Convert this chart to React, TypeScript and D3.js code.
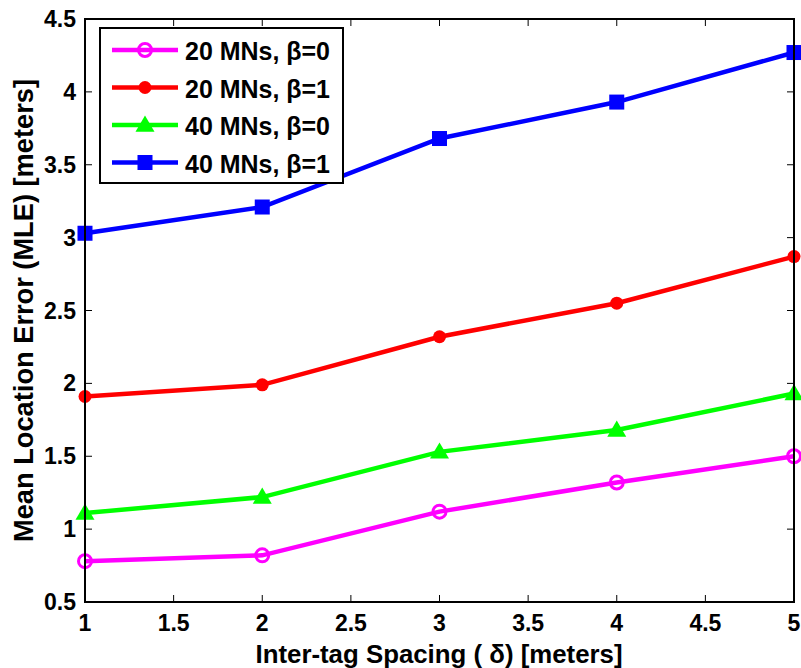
import React from "react";
import * as d3 from "d3";

const spacing = [1, 2, 3, 4, 5];
const mn20b0 = [0.78, 0.82, 1.12, 1.32, 1.5];
const mn20b1 = [1.91, 1.99, 2.32, 2.55, 2.87];
const mn40b0 = [1.11, 1.22, 1.53, 1.68, 1.93];
const mn40b1 = [3.03, 3.21, 3.68, 3.93, 4.27];
const xTicks = [1, 1.5, 2, 2.5, 3, 3.5, 4, 4.5, 5];
const yTicks = [0.5, 1, 1.5, 2, 2.5, 3, 3.5, 4, 4.5];

const series = [
  { name: "20 MNs, \u03b2=0", values: mn20b0, color: "#ff00ff", marker: "openCircle" },
  { name: "20 MNs, \u03b2=1", values: mn20b1, color: "#ff0000", marker: "circle" },
  { name: "40 MNs, \u03b2=0", values: mn40b0, color: "#00ff00", marker: "triangle" },
  { name: "40 MNs, \u03b2=1", values: mn40b1, color: "#0000ff", marker: "square" },
];

const xLabel = "Inter-tag Spacing ( \u03b4) [meters]";
const yLabel = "Mean Location Error (MLE) [meters]";

const W = 801;
const H = 668;
const m = { left: 85, right: 794, top: 19, bottom: 602 };
const font = "'Liberation Sans', Arial, sans-serif";

const Marker = ({ type, x, y, color }: { type: string; x: number; y: number; color: string }) => {
  if (type === "openCircle")
    return <circle cx={x} cy={y} r={6.5} fill="none" stroke={color} strokeWidth={3} />;
  if (type === "circle") return <circle cx={x} cy={y} r={6.5} fill={color} />;
  if (type === "triangle") {
    const s = 9.5;
    return <path d={`M${x},${y - s}L${x + s},${y + s * 0.7}L${x - s},${y + s * 0.7}Z`} fill={color} />;
  }
  return <rect x={x - 7.5} y={y - 7.5} width={15} height={15} fill={color} />;
};

export default function App() {
  const x = d3.scaleLinear().domain([1, 5]).range([m.left, m.right]);
  const y = d3.scaleLinear().domain([0.5, 4.5]).range([m.bottom, m.top]);
  const line = d3
    .line<number>()
    .x((_, i) => x(spacing[i]))
    .y((d) => y(d));

  const lg = { x: 100, y: 28, w: 243, h: 155 };

  return (
    <svg width={W} height={H} style={{ position: "absolute", left: 0, top: 0 }} fontFamily={font}>
      <rect width={W} height={H} fill="white" />
      {/* ticks */}
      {xTicks.map((t) => (
        <g key={"x" + t}>
          <line x1={x(t)} x2={x(t)} y1={m.bottom} y2={m.bottom - 7} stroke="#000" strokeWidth={1} />
          <line x1={x(t)} x2={x(t)} y1={m.top} y2={m.top + 7} stroke="#000" strokeWidth={1} />
          <text x={x(t)} y={m.bottom + 29} textAnchor="middle" fontSize={23} fontWeight="bold">
            {t}
          </text>
        </g>
      ))}
      {yTicks.map((t) => (
        <g key={"y" + t}>
          <line x1={m.left} x2={m.left + 7} y1={y(t)} y2={y(t)} stroke="#000" strokeWidth={1} />
          <line x1={m.right} x2={m.right - 7} y1={y(t)} y2={y(t)} stroke="#000" strokeWidth={1} />
          <text x={m.left - 9} y={y(t) + 8} textAnchor="end" fontSize={23} fontWeight="bold">
            {t}
          </text>
        </g>
      ))}
      {/* data */}
      {series.map((s) => (
        <g key={s.name}>
          <path d={line(s.values) || ""} fill="none" stroke={s.color} strokeWidth={4.5} />
          {s.values.map((v, i) => (
            <Marker key={i} type={s.marker} x={x(spacing[i])} y={y(v)} color={s.color} />
          ))}
        </g>
      ))}
      <rect
        x={m.left}
        y={m.top}
        width={m.right - m.left}
        height={m.bottom - m.top}
        fill="none"
        stroke="#000"
        strokeWidth={2}
      />
      {/* legend */}
      <rect x={lg.x} y={lg.y} width={lg.w} height={lg.h} fill="white" stroke="#000" strokeWidth={2} />
      {series.map((s, i) => {
        const cy = lg.y + 22 + i * 37.5;
        return (
          <g key={"lg" + i}>
            <line x1={112} x2={178} y1={cy} y2={cy} stroke={s.color} strokeWidth={4.5} />
            <Marker type={s.marker} x={145} y={cy} color={s.color} />
            <text x={185} y={cy + 10} fontSize={26} fontWeight="bold" textLength={145} lengthAdjust="spacingAndGlyphs">
              {s.name}
            </text>
          </g>
        );
      })}
      {/* axis labels */}
      <text
        x={439}
        y={663}
        textAnchor="middle"
        fontSize={26}
        fontWeight="bold"
        textLength={367}
        lengthAdjust="spacingAndGlyphs"
      >
        {xLabel}
      </text>
      <text
        transform={`translate(33,${(m.top + m.bottom) / 2}) rotate(-90)`}
        textAnchor="middle"
        fontSize={27}
        fontWeight="bold"
        textLength={463}
        lengthAdjust="spacingAndGlyphs"
      >
        {yLabel}
      </text>
    </svg>
  );
}
